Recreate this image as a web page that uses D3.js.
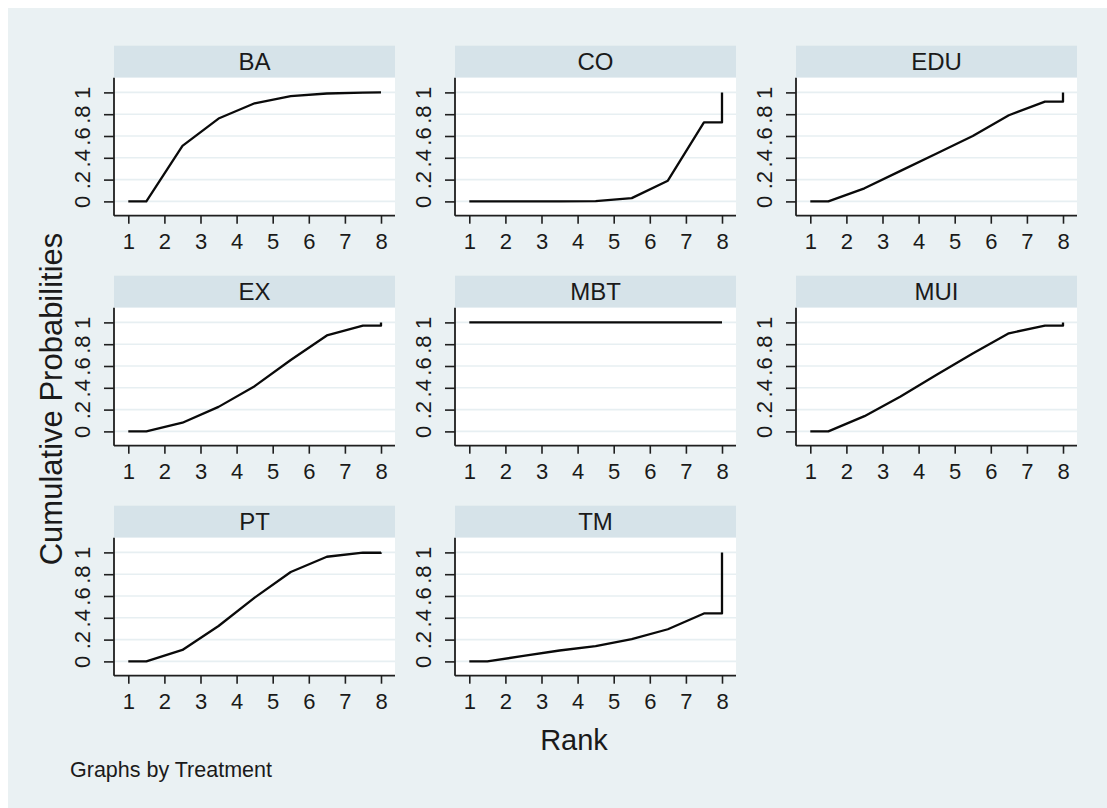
<!DOCTYPE html>
<html>
<head>
<meta charset="utf-8">
<script src="https://cdn.jsdelivr.net/npm/d3@7/dist/d3.min.js"></script>
<style>
  html, body { margin: 0; padding: 0; background: #ffffff; }
  svg { display: block; }
  text { font-family: "Liberation Sans", Arial, Helvetica, sans-serif; fill: #1a1a1a; }
</style>
</head>
<body>
<div id="chart"></div>
<script>
// Treatments, one small panel each (filled row by row, three per row)
const treatments = ["BA", "CO", "EDU", "EX", "MBT", "MUI", "PT", "TM"];

// Rank positions at which the cumulative probability is plotted
const rankPoints = [1, 1.5, 2.5, 3.5, 4.5, 5.5, 6.5, 7.5, 8, 8];

// Cumulative rank probabilities for each treatment
const cumBA  = [0, 0, 0.51, 0.76, 0.90, 0.965, 0.99, 0.998, 1, 1];
const cumCO  = [0, 0, 0, 0, 0.003, 0.03, 0.19, 0.725, 0.725, 1];
const cumEDU = [0, 0, 0.12, 0.28, 0.44, 0.60, 0.79, 0.915, 0.915, 1];
const cumEX  = [0, 0, 0.08, 0.225, 0.415, 0.655, 0.88, 0.97, 0.97, 1];
const cumMBT = [1, 1, 1, 1, 1, 1, 1, 1, 1, 1];
const cumMUI = [0, 0, 0.14, 0.32, 0.52, 0.715, 0.90, 0.97, 0.97, 1];
const cumPT  = [0, 0, 0.105, 0.325, 0.585, 0.82, 0.96, 0.997, 0.997, 1];
const cumTM  = [0, 0, 0.05, 0.10, 0.14, 0.205, 0.295, 0.44, 0.44, 1];

// Axis ticks
const xTicks = [1, 2, 3, 4, 5, 6, 7, 8];
const yTicks = [0, 0.2, 0.4, 0.6, 0.8, 1];
const yTickLabels = ["0", ".2", ".4", ".6", ".8", "1"];

const seriesList = [cumBA, cumCO, cumEDU, cumEX, cumMBT, cumMUI, cumPT, cumTM];
const panels = treatments.map((name, i) => ({
  name,
  points: rankPoints.map((r, j) => ({ rank: r, p: seriesList[i][j] }))
}));

// Page geometry
const W = 1107, H = 808;
const colX0 = 114, colStep = 341, panelW = 281;
const rowY0 = 45.7, rowStep = 230, stripH = 32, plotH = 138;
const nCols = 3;

const colors = {
  region: "#eaf1f3",
  strip: "#d6e3e9",
  grid: "#e7eff2",
  axis: "#1f1f1f",
  line: "#0a0a0a"
};

const tickFont = "22px";

const svg = d3.select("#chart").append("svg")
  .attr("width", W).attr("height", H);

svg.append("rect")
  .attr("x", 8).attr("y", 8)
  .attr("width", W - 8).attr("height", H - 8)
  .attr("fill", colors.region);

// Shared scales (local panel coordinates)
const x = d3.scaleLinear().domain([1, 8]).range([14.3, 267]);
const y = d3.scaleLinear().domain([0, 1]).range([plotH - 14.3, 14.7]);

const line = d3.line()
  .x(d => x(d.rank))
  .y(d => y(d.p));

panels.forEach((panel, i) => {
  const col = i % nCols, row = Math.floor(i / nCols);
  const gx = colX0 + col * colStep;
  const gy = rowY0 + row * rowStep;

  const g = svg.append("g").attr("transform", `translate(${gx},${gy})`);

  // Title strip
  g.append("rect")
    .attr("x", 0).attr("y", 0)
    .attr("width", panelW).attr("height", stripH)
    .attr("fill", colors.strip);
  g.append("text")
    .attr("x", panelW / 2).attr("y", stripH / 2)
    .attr("dy", "0.36em")
    .attr("text-anchor", "middle")
    .style("font-size", "24px")
    .text(panel.name);

  // Plot region
  const p = g.append("g").attr("transform", `translate(0,${stripH})`);
  p.append("rect")
    .attr("width", panelW).attr("height", plotH)
    .attr("fill", "#ffffff");

  // Horizontal grid lines
  p.selectAll("line.grid")
    .data(yTicks)
    .join("line")
    .attr("class", "grid")
    .attr("x1", 0).attr("x2", panelW)
    .attr("y1", d => y(d)).attr("y2", d => y(d))
    .attr("stroke", colors.grid)
    .attr("stroke-width", 1.6);

  // Cumulative probability curve
  p.append("path")
    .datum(panel.points)
    .attr("d", line)
    .attr("fill", "none")
    .attr("stroke", colors.line)
    .attr("stroke-width", 2.3)
    .attr("stroke-linejoin", "round");

  // Bottom axis
  const xAxis = p.append("g")
    .attr("transform", `translate(0,${plotH})`)
    .call(d3.axisBottom(x).tickValues(xTicks).tickFormat(d3.format("d"))
      .tickSize(8).tickPadding(10));
  xAxis.select(".domain").remove();
  xAxis.selectAll(".tick line").attr("stroke", colors.axis).attr("stroke-width", 1.6);
  xAxis.selectAll(".tick text")
    .attr("fill", "#1a1a1a")
    .style("font-size", tickFont)
    .style("font-family", "'Liberation Sans', Arial, sans-serif");
  xAxis.append("line")
    .attr("x1", 0).attr("x2", panelW)
    .attr("stroke", colors.axis).attr("stroke-width", 1.8);

  // Left axis with rotated labels
  const yAxis = p.append("g")
    .call(d3.axisLeft(y).tickValues(yTicks)
      .tickFormat((d, k) => yTickLabels[k]).tickSize(10));
  yAxis.select(".domain").remove();
  yAxis.selectAll(".tick line").attr("stroke", colors.axis).attr("stroke-width", 1.6);
  yAxis.selectAll(".tick text")
    .attr("x", null).attr("dy", null)
    .attr("text-anchor", "middle")
    .attr("transform", "translate(-24,0) rotate(-90)")
    .attr("fill", "#1a1a1a")
    .style("font-size", tickFont)
    .style("font-family", "'Liberation Sans', Arial, sans-serif");
  yAxis.append("line")
    .attr("y1", 0).attr("y2", plotH)
    .attr("stroke", colors.axis).attr("stroke-width", 1.8);
});

// Axis titles and note
svg.append("text")
  .attr("transform", "translate(62,399) rotate(-90)")
  .attr("text-anchor", "middle")
  .style("font-size", "31px")
  .text("Cumulative Probabilities");

svg.append("text")
  .attr("x", 574).attr("y", 750)
  .attr("text-anchor", "middle")
  .style("font-size", "29px")
  .text("Rank");

svg.append("text")
  .attr("x", 70).attr("y", 777)
  .style("font-size", "21.5px")
  .text("Graphs by Treatment");
</script>
</body>
</html>
